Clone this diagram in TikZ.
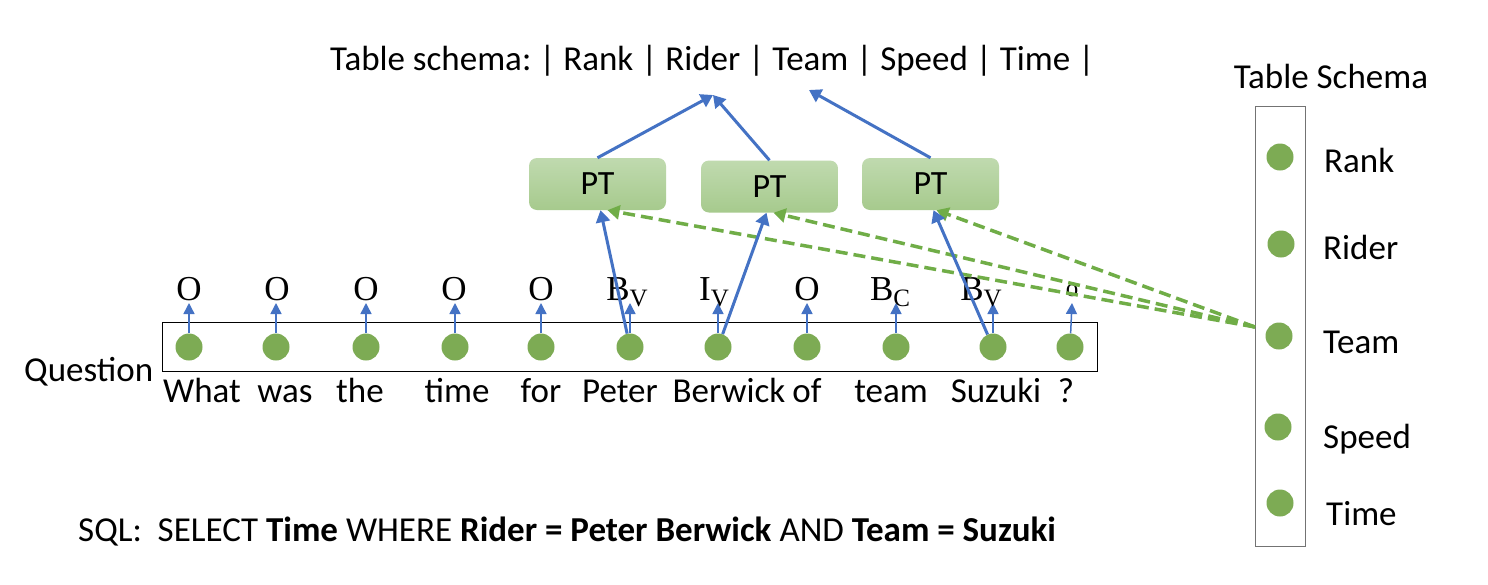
\documentclass[tikz,border=0pt]{standalone}
\usepackage{fontspec}
\setmainfont{Carlito}
\newfontfamily\serifl{Liberation Serif}
\usetikzlibrary{arrows.meta}
\definecolor{dotg}{RGB}{125,171,84}
\definecolor{dashg}{RGB}{112,173,71}
\definecolor{arrb}{RGB}{68,114,196}
\definecolor{ptt}{RGB}{192,218,175}
\definecolor{ptb}{RGB}{166,202,141}
\newcommand{\sbs}[1]{\raisebox{-6pt}{\fontsize{25}{25}\selectfont #1}}
\frenchspacing
\begin{document}
\begin{tikzpicture}[x=1pt,y=-1pt,
 dot/.style={circle,fill=dotg,minimum size=27pt,inner sep=0pt},
 txt/.style={font=\fontsize{35}{38}\selectfont, inner sep=0pt},
 tag/.style={font=\serifl\fontsize{35}{38}\selectfont, inner sep=0pt, anchor=base},
 ptbox/.style={rounded corners=8pt, top color=ptt, bottom color=ptb, minimum width=137pt, minimum height=52pt, inner sep=0pt, font=\fontsize{34}{36}\selectfont},
 tiny/.style={arrb, line width=1.5pt, -{Triangle[width=11pt,length=11pt]}},
 bigarr/.style={arrb, line width=3pt, -{Triangle[width=14pt,length=12pt]}},
 dasharr/.style={dashg, line width=3.5pt, dash pattern=on 12pt off 6pt, -{Triangle[width=14pt,length=12pt]}},
]
\useasboundingbox[fill=white] (0,0) rectangle (1488,584);

\node[txt, anchor=base west] (top) at (330,70) {Table schema: | Rank | Rider | Team | Speed | Time |};

% question
\node[draw, line width=0.8pt, minimum width=935pt, minimum height=49pt, inner sep=0pt] (qbox) at (629.5,346.5) {};
\node[txt, anchor=base west] (qlab) at (24,381) {Question};
\foreach \i/\x/\tx in {1/189/189,2/276/276,3/366/366,4/455/455,5/541/541,6/630/630,7/718/718,8/807/807,9/896/896,10/993/993,11/1070/1072} {
  \node[dot] (d\i) at (\x,347) {};
  \coordinate (t\i) at (\tx,303);
}
\foreach \i in {1,2,3,4,5,6,7,8,9,10,11} { \draw[tiny] (d\i) -- (t\i); }

\node[tag] (l1) at (189,300) {O};
\node[tag] (l2) at (277,300) {O};
\node[tag] (l3) at (366,300) {O};
\node[tag] (l4) at (454,300) {O};
\node[tag] (l5) at (541,300) {O};
\node[tag] (l6) at (627,300) {B\sbs{V}};
\node[tag] (l7) at (714,300) {I\sbs{V}};
\node[tag] (l8) at (807,300) {O};
\node[tag] (l9) at (890,300) {B\sbs{C}};
\node[tag] (l10) at (981,300) {B\sbs{V}};
\node[tag, font=\serifl\fontsize{25}{25}\selectfont] (l11) at (1072,296) {o};

\node[txt, anchor=base] (w1) at (202,402) {What};
\node[txt, anchor=base] (w2) at (285,402) {was};
\node[txt, anchor=base] (w3) at (360,402) {the};
\node[txt, anchor=base] (w4) at (457,402) {time};
\node[txt, anchor=base] (w5) at (541,402) {for};
\node[txt, anchor=base] (w6) at (620,402) {Peter};
\node[txt, anchor=base] (w7) at (729,402) {Berwick};
\node[txt, anchor=base] (w8) at (807,402) {of};
\node[txt, anchor=base] (w9) at (891,402) {team};
\node[txt, anchor=base] (w10) at (996,402) {Suzuki};
\node[txt, anchor=base] (w11) at (1066,402) {?};

% PT boxes
\node[ptbox] (p1) at (597.5,184) {PT};
\node[ptbox] (p2) at (769.5,186.5) {PT};
\node[ptbox] (p3) at (930.5,184) {PT};

% schema
\node[draw=black!55, line width=1pt, minimum width=50pt, minimum height=440pt, inner sep=0pt] (sbox) at (1280,326) {};
\node[txt, anchor=base] (stitle) at (1331,88) {Table Schema};
\node[dot] (s1) at (1280,157) {};
\node[dot] (s2) at (1281,244) {};
\node[dot] (s3) at (1279,336) {};
\node[dot] (s4) at (1278,427) {};
\node[dot] (s5) at (1280,503) {};
\node[txt, anchor=base west] (r1) at (1324,172) {Rank};
\node[txt, anchor=base west] (r2) at (1323,259) {Rider};
\node[txt, anchor=base west] (r3) at (1323,353) {Team};
\node[txt, anchor=base west] (r4) at (1323,448) {Speed};
\node[txt, anchor=base west] (r5) at (1326,525) {Time};

% dashed attention
\coordinate (src) at (1255,327);
\draw[dasharr] (src) -- ([xshift=10pt]p1.south);
\draw[dasharr] (src) -- ([xshift=4pt]p2.south);
\draw[dasharr] (src) -- ([xshift=6pt]p3.south);

% blue arrows
\coordinate (a1) at (713,95);
\coordinate (a2) at (809,90);
\draw[bigarr] (p1.north) -- (a1);
\draw[bigarr] (p2.north) -- (a1);
\draw[bigarr] (p3.north) -- (a2);
\draw[bigarr] (d6) -- ([xshift=3pt]p1.south);
\draw[bigarr] (d7) -- ([xshift=-3pt]p2.south);
\draw[bigarr] (d10) -- ([xshift=3pt]p3.south);

\node[txt, anchor=base west] (sql) at (78,541) {SQL:\ \ SELECT \textbf{Time} WHERE \textbf{Rider = Peter Berwick} AND \textbf{Team = Suzuki}};
\end{tikzpicture}
\end{document}
